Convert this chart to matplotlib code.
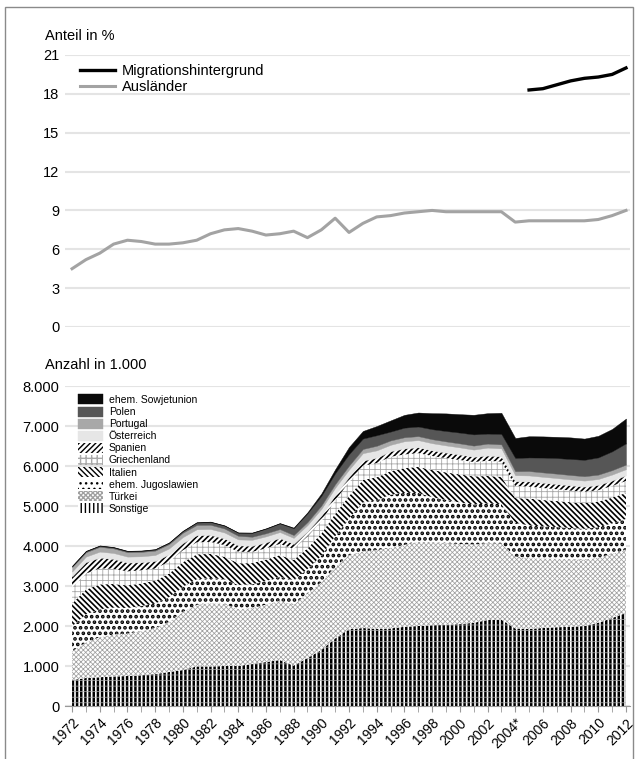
import matplotlib
matplotlib.use("Agg")
import matplotlib.pyplot as plt
import matplotlib.patches as mpatches
from matplotlib.lines import Line2D
import numpy as np

plt.rcParams['font.family'] = ['Liberation Sans', 'DejaVu Sans']

# years on both charts
years = np.arange(1972, 2013)

# top chart: share in percent
auslaender = [4.5, 5.2, 5.7, 6.4, 6.7, 6.6, 6.4, 6.4, 6.5, 6.7,
              7.2, 7.5, 7.6, 7.4, 7.1, 7.2, 7.4, 6.9, 7.5, 8.4,
              7.3, 8.0, 8.5, 8.6, 8.8, 8.9, 9.0, 8.9, 8.9, 8.9,
              8.9, 8.9, 8.1, 8.2, 8.2, 8.2, 8.2, 8.2, 8.3, 8.6, 9.0]
mig_years = np.arange(2005, 2013)
migration = [18.3, 18.4, 18.7, 19.0, 19.2, 19.3, 19.5, 20.0]

# bottom chart: counts in thousands, stacked from bottom to top
sonstige = [650, 700, 720, 740, 750, 770, 800, 850, 900, 990,
            990, 1000, 1000, 1050, 1100, 1150, 1010, 1200, 1400, 1690,
            1920, 1950, 1930, 1940, 1980, 2000, 2020, 2030, 2050, 2080,
            2150, 2160, 1940, 1930, 1950, 1970, 1980, 2000, 2080, 2200, 2330]
tuerkei = [712, 890, 1000, 1050, 1060, 1100, 1150, 1250, 1450, 1540,
           1580, 1553, 1425, 1400, 1434, 1481, 1524, 1613, 1695, 1780,
           1855, 1918, 1966, 2014, 2049, 2107, 2080, 2040, 2000, 1960,
           1920, 1900, 1800, 1764, 1740, 1714, 1690, 1660, 1630, 1607, 1576]
jugoslawien = [630, 700, 700, 670, 640, 630, 610, 620, 630, 637,
               631, 612, 600, 591, 591, 597, 611, 610, 662, 775,
               916, 1220, 1250, 1330, 1300, 1220, 1120, 1080, 1040, 1000,
               990, 990, 840, 820, 800, 790, 780, 770, 760, 760, 770]
italien = [570, 620, 620, 590, 565, 565, 570, 590, 615, 625,
           601, 565, 545, 531, 537, 544, 508, 520, 552, 561,
           558, 563, 571, 586, 620, 650, 680, 690, 700, 700,
           690, 680, 620, 670, 660, 650, 645, 640, 640, 645, 650]
griechenland = [408, 400, 400, 380, 350, 328, 305, 297, 298, 299,
                300, 292, 287, 281, 279, 280, 274, 294, 314, 336,
                346, 352, 356, 360, 340, 345, 350, 355, 360, 360,
                380, 380, 300, 300, 300, 295, 290, 285, 285, 290, 300]
spanien = [270, 285, 270, 245, 220, 200, 190, 182, 180, 177,
           173, 166, 158, 152, 150, 147, 126, 127, 135, 135,
           134, 133, 133, 140, 150, 145, 140, 140, 135, 130,
           130, 130, 120, 130, 130, 130, 130, 130, 130, 135, 140]
oesterreich = [120, 140, 150, 150, 150, 150, 150, 150, 150, 150,
               150, 150, 150, 150, 150, 150, 150, 160, 170, 180,
               183, 185, 185, 160, 180, 180, 180, 180, 180, 180,
               200, 200, 150, 150, 150, 150, 150, 150, 150, 150, 155]
portugal = [116, 110, 120, 115, 110, 110, 110, 110, 110, 108,
            105, 100, 90, 77, 77, 75, 71, 75, 85, 92,
            100, 105, 115, 110, 100, 100, 100, 100, 100, 100,
            100, 100, 100, 110, 110, 110, 110, 110, 110, 110, 115]
polen = [20, 25, 25, 25, 25, 25, 28, 30, 40, 60,
         70, 70, 75, 95, 115, 140, 171, 220, 241, 271,
         285, 260, 263, 220, 240, 240, 250, 260, 270, 280,
         250, 260, 330, 340, 370, 390, 400, 410, 430, 470, 530]
sowjetunion = [10, 10, 10, 10, 10, 10, 10, 10, 10, 10,
               10, 10, 10, 10, 10, 10, 15, 25, 60, 100,
               180, 190, 230, 280, 320, 350, 400, 440, 460, 490,
               510, 530, 500, 530, 530, 530, 540, 530, 540, 560, 620]

xlabels = [("2004*" if y == 2004 else str(y)) for y in range(1972, 2013, 2)]

# name, values, facecolor, hatchcolor, hatch, hatch linewidth
layers = [
    ("Sonstige", sonstige, "white", "black", "||||", 1.8),
    ("Türkei", tuerkei, "white", "#a0a0a0", "xxxxxxx", 0.55),
    ("ehem. Jugoslawien", jugoslawien, "white", "black", "...", 1.8),
    ("Italien", italien, "white", "black", "\\" * 6, 1.2),
    ("Griechenland", griechenland, "white", "#a8a8a8", "+++", 0.6),
    ("Spanien", spanien, "white", "black", "/" * 6, 1.2),
    ("Österreich", oesterreich, "#e6e6e6", None, None, 0),
    ("Portugal", portugal, "#a8a8a8", None, None, 0),
    ("Polen", polen, "#565656", None, None, 0),
    ("ehem. Sowjetunion", sowjetunion, "#0a0a0a", None, None, 0),
]


def set_hlw(artist, lw):
    if hasattr(artist, "set_hatch_linewidth"):
        artist.set_hatch_linewidth(lw)


W, H = 639, 759
def box(x0, y0, x1, y1):
    return [x0 / W, 1 - y1 / H, (x1 - x0) / W, (y1 - y0) / H]

fig = plt.figure(figsize=(W / 100, H / 100), dpi=100)
ax1 = fig.add_axes(box(65, 55, 630, 327))
ax2 = fig.add_axes(box(65, 386, 630, 706))

xmin, xmax = 1971.49, 2012.29
grid_c = "#e4e4e4"

# top chart
ax1.plot(years, auslaender, color="#a3a3a3", lw=2.2, label="Ausländer")
ax1.plot(mig_years, migration, color="black", lw=2.4, label="Migrationshintergrund")
ax1.set_xlim(xmin, xmax)
ax1.set_ylim(0, 21)
ax1.set_yticks(range(0, 22, 3))
ax1.set_xticks([])
ax1.tick_params(axis="y", length=0, pad=4, labelsize=10.5)
ax1.grid(axis="y", color=grid_c, lw=1.5)
ax1.set_axisbelow(True)
for s in ax1.spines.values():
    s.set_visible(False)
h1 = [Line2D([], [], color="black", lw=2.4), Line2D([], [], color="#a3a3a3", lw=2.2)]
ax1.legend(h1, ["Migrationshintergrund", "Ausländer"], loc="upper left",
           bbox_to_anchor=(0.013, 0.995), frameon=False, fontsize=10.5,
           handlelength=2.4, borderpad=0, labelspacing=0.15, handletextpad=0.5)
fig.text(45 / W, 1 - 36 / H, "Anteil in %", fontsize=10.5, va="center", ha="left")

# bottom chart: stacked areas
base = np.zeros(len(years))
handles = []
for name, vals, face, hc, hatch, hlw in layers:
    top = base + np.array(vals)
    if hatch:
        with plt.rc_context({"hatch.linewidth": hlw}):
            coll = ax2.fill_between(years, base, top, facecolor=face, edgecolor=hc,
                                    hatch=hatch, linewidth=0)
            set_hlw(coll, hlw)
            if name == "Sonstige":
                c2 = ax2.fill_between(years, base, top, facecolor="none", edgecolor="#b0b0b0",
                                      hatch="---", linewidth=0)
                set_hlw(c2, 0.5)
            p = mpatches.Patch(facecolor=face, edgecolor=hc, hatch=hatch, linewidth=0)
            set_hlw(p, hlw)
    else:
        ax2.fill_between(years, base, top, facecolor=face, edgecolor=face, linewidth=0.3)
        p = mpatches.Patch(facecolor=face, edgecolor=face, linewidth=0.3)
    handles.append((p, name))
    base = top

ax2.set_xlim(xmin, xmax)
ax2.set_ylim(0, 8000)
yt = list(range(0, 8001, 1000))
ax2.set_yticks(yt)
ax2.set_yticklabels([f"{v:,}".replace(",", ".") for v in yt])
ax2.set_xticks(range(1972, 2013, 2))
ax2.set_xticklabels(xlabels, rotation=45, ha="right", rotation_mode="anchor")
ax2.set_xticks(range(1972, 2013), minor=True)
ax2.tick_params(axis="y", length=0, pad=4, labelsize=10.5)
ax2.tick_params(axis="x", which="both", length=4, color="#999999", labelsize=10, pad=3)
ax2.grid(axis="y", color=grid_c, lw=1.5)
ax2.set_axisbelow(True)
for k, s in ax2.spines.items():
    if k == "bottom":
        s.set_color("#999999")
    else:
        s.set_visible(False)

handles = handles[::-1]
ax2.legend([h for h, _ in handles], [n for _, n in handles], loc="upper left",
           bbox_to_anchor=(0.013, 0.99), frameon=False, fontsize=7.5,
           handlelength=2.4, handleheight=1.1, borderpad=0, labelspacing=0.15,
           handletextpad=0.6)
fig.text(45 / W, 1 - 365 / H, "Anzahl in 1.000", fontsize=10.5, va="center", ha="left")

# outer frame
fig.add_artist(mpatches.Rectangle((5 / W, -0.01), (633 - 5) / W, 1.01 - 7 / H,
                                  transform=fig.transFigure, fill=False,
                                  edgecolor="#8a8a8a", lw=1))

fig.savefig("out.png", dpi=100)
